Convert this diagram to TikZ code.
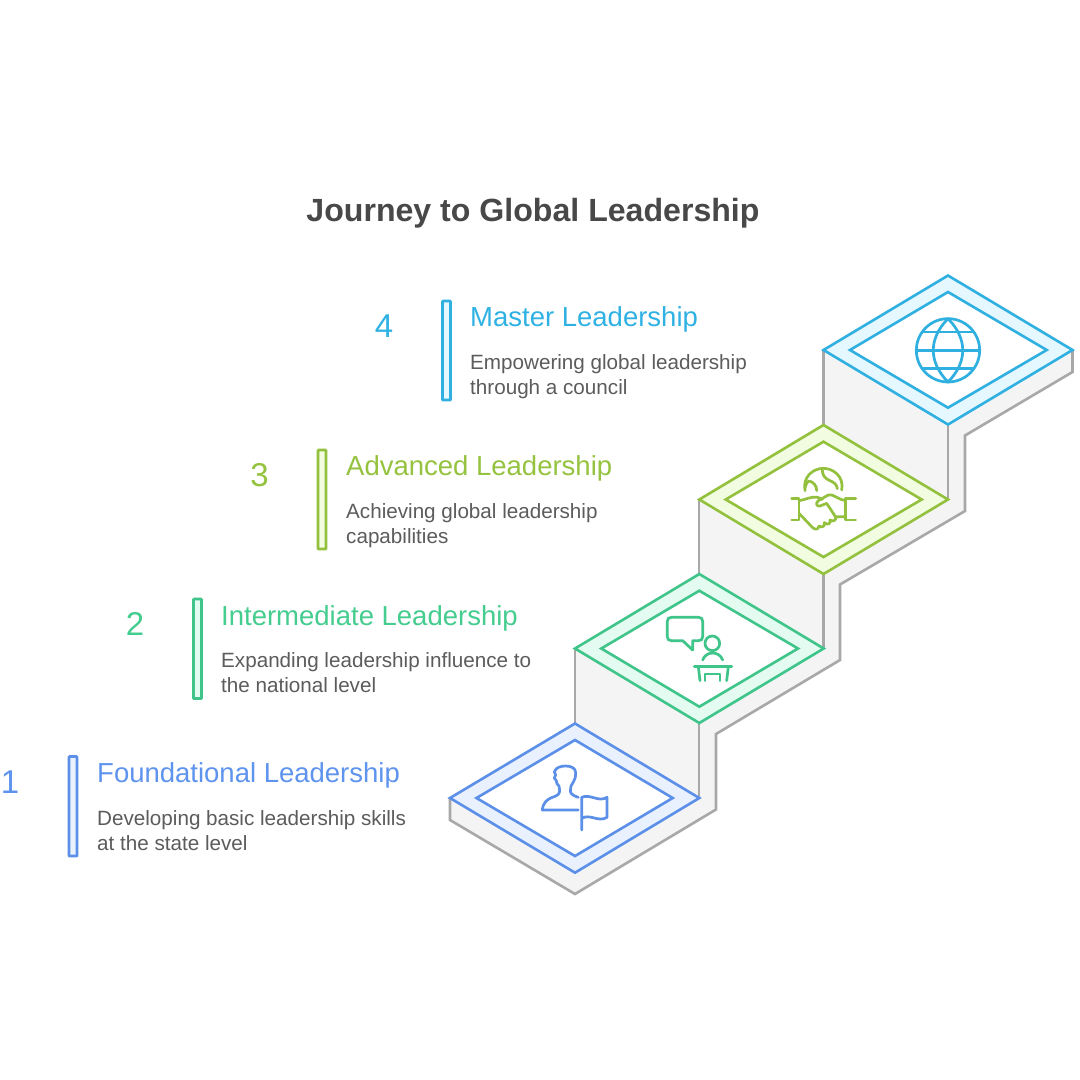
\documentclass[tikz,border=0pt]{standalone}
\usepackage{fontspec}
\setmainfont{Liberation Sans}
\definecolor{cblue}{HTML}{5B8FE8}\definecolor{fblue}{HTML}{EAF1FE}\definecolor{tblue}{HTML}{5E94EE}
\definecolor{cgreen}{HTML}{3FC48A}\definecolor{fgreen}{HTML}{E3FBF0}\definecolor{tgreen}{HTML}{45CC8F}
\definecolor{clime}{HTML}{93C13E}\definecolor{flime}{HTML}{F1FCE0}\definecolor{tlime}{HTML}{95C33F}
\definecolor{csky}{HTML}{2FB0E0}\definecolor{fsky}{HTML}{E5F7FF}\definecolor{tsky}{HTML}{2FB2E3}
\definecolor{wallline}{HTML}{A8A8A8}\definecolor{wallfill}{HTML}{F4F4F4}
\definecolor{titletext}{HTML}{484848}\definecolor{bodytext}{HTML}{5C5C5C}
\tikzset{
  wallstroke/.style={draw=wallline,line width=2.6pt,line join=miter},
  outerd/.style={line width=2.6pt,line join=miter},
  innerd/.style={line width=2.6pt,line join=miter,fill=white},
  bar/.style={line width=2.9pt,rounded corners=0.8pt},
  icon/.style={line width=2.7pt,line cap=round,line join=round},
  headtext/.style={anchor=base west,inner sep=0pt,font=\fontsize{27.5}{30}\selectfont},
  subtext/.style={anchor=base west,inner sep=0pt,font=\fontsize{20.65}{24}\selectfont,text=bodytext},
  numtext/.style={anchor=base,inner sep=0pt,font=\fontsize{33}{36}\selectfont},
  titlenode/.style={anchor=base,inner sep=0pt,font=\bfseries\fontsize{32.1}{36}\selectfont,text=titletext}
}
\begin{document}
\begin{tikzpicture}[x=1pt,y=-1pt]
\useasboundingbox (0,0) rectangle (1080,1080);
\fill[white] (0,0) rectangle (1080,1080);
% body of the staircase
\fill[wallfill] (450,798)--(575,723.5)--(575,648.5)--(699,574)--(699,499.5)--(823.5,425)--(823.5,350)--(948,275.5)--(1072.5,350)--(1072.5,372)--(965,435.5)--(965,511)--(840,584.5)--(840,660)--(716,734)--(716,809.5)--(575,894)--(450,820)--cycle;
\draw[wallstroke] (450,798)--(450,820)--(575,894)--(716,809.5)--(716,734)--(840,660)--(840,584.5)--(965,511)--(965,435.5)--(1072.5,372)--(1072.5,350);
\draw[wallstroke] (575,648.5)--(575,723.5) (699,723)--(699,798) (699,499.5)--(699,574) (823.5,574)--(823.5,648.5) (823.5,350)--(823.5,425) (948,424.5)--(948,499.5);
% step 1
\draw[outerd,draw=cblue,fill=fblue] (450,798)--(575,723.5)--(699.3,798)--(575,872.7)--cycle;
\draw[innerd,draw=cblue] (476.5,798)--(575,740)--(672.7,798)--(575,856)--cycle;
% step 2
\draw[outerd,draw=cgreen,fill=fgreen] (575,648.5)--(699.3,574)--(823.7,648.5)--(699.3,723)--cycle;
\draw[innerd,draw=cgreen] (601.3,648.5)--(699.3,590.7)--(798,648.5)--(699.3,706.7)--cycle;
% step 3
\draw[outerd,draw=clime,fill=flime] (699.3,499.5)--(823.5,425)--(948,499.5)--(823.5,574)--cycle;
\draw[innerd,draw=clime] (725.7,499.5)--(823.5,441.7)--(921.7,499.5)--(823.5,557)--cycle;
% step 4
\draw[outerd,draw=csky,fill=fsky] (823.5,350)--(948,275.5)--(1072.5,350)--(948,424.5)--cycle;
\draw[innerd,draw=csky] (850,350)--(948,292)--(1046.7,350)--(948,407.7)--cycle;
% icon 1: person and flag
\begin{scope}[shift={(535,760)},scale=1/3,icon,draw=cblue]
\draw (130,150)--(22,150) .. controls (24,128) and (36,118) .. (52,112) .. controls (64,108) and (74,104) .. (74,92)--(72,78) .. controls (66,74) and (64,68) .. (64,62)--(58,54)--(62,44)--(58,36) .. controls (62,22) and (78,18) .. (92,18) .. controls (108,18) and (122,24) .. (122,38) .. controls (122,50) and (120,60) .. (114,68)--(108,78)--(106,94) .. controls (108,104) and (118,108) .. (130,112);
\draw (140,210)--(140,112) .. controls (165,100) and (190,128) .. (216,112)--(216,172) .. controls (190,188) and (165,160) .. (140,175);
\end{scope}
% icon 2: speaker at a desk
\begin{scope}[shift={(660,610)},scale=1/3,icon,draw=cgreen]
\draw (68,92)--(98,120)--(98,92)--(116,92) .. controls (124,92) and (128,88) .. (128,80)--(128,34) .. controls (128,26) and (124,22) .. (116,22)--(34,22) .. controls (26,22) and (22,26) .. (22,34)--(22,80) .. controls (22,88) and (26,92) .. (34,92)--cycle;
\draw (157,100) circle[radius=22];
\draw (128,150) .. controls (138,122) and (178,122) .. (188,150);
\draw (103,170)--(215,170);
\draw (115,170)--(120,212) (205,170)--(200,212);
\draw (135,212)--(135,192)--(180,192)--(180,212);
\end{scope}
% icon 3: handshake under a globe
\begin{scope}[shift={(785,460)},scale=1/3,icon,draw=clime]
\draw (60,92) .. controls (52,50) and (85,25) .. (115,25) .. controls (145,25) and (178,50) .. (170,90);
\draw (60,85) .. controls (62,72) and (68,64) .. (73,63) .. controls (85,66) and (96,78) .. (95,92);
\draw (112,30) .. controls (112,46) and (120,56) .. (135,62) .. controls (146,66) and (156,74) .. (157,86);
\draw (20,115)--(42,115)--(42,180)--(20,180);
\draw (212,115)--(182,115)--(182,180)--(212,180);
\draw (42,122) .. controls (60,120) and (78,108) .. (98,112)--(112,118);
\draw (182,170)--(152,170) (182,122) .. controls (160,120) and (145,100) .. (130,105)--(100,122) .. controls (90,130) and (95,140) .. (105,138)--(125,130)--(150,168) .. controls (158,178) and (145,188) .. (135,180) .. controls (138,192) and (128,196) .. (118,188) .. controls (120,200) and (110,204) .. (102,198) .. controls (100,210) and (90,210) .. (82,202)--(42,160);
\end{scope}
% icon 4: globe
\begin{scope}[shift={(908,312)},scale=1/3,icon,draw=csky]
\draw (120,115) circle[radius=95];
\draw (25,115)--(215,115) (43,60)--(197,60) (43,170)--(197,170);
\draw (120,20) .. controls (61,80) and (61,150) .. (120,210) .. controls (179,150) and (179,80) .. (120,20);
\end{scope}
% bars
\draw[bar,draw=cblue,fill=fblue] (69,756.5) rectangle (77,856);
\draw[bar,draw=cgreen,fill=fgreen] (193.5,599) rectangle (201.5,698.5);
\draw[bar,draw=clime,fill=flime] (318,450) rectangle (326,549);
\draw[bar,draw=csky,fill=fsky] (442.5,301) rectangle (450.5,400);
% text
\node[titlenode] (title) at (533,221.5) {Journey to Global Leadership};
\node[numtext,text=tblue] (n1) at (10,793.5) {1};
\node[numtext,text=tgreen] (n2) at (135,635.5) {2};
\node[numtext,text=tlime] (n3) at (259.5,486.5) {3};
\node[numtext,text=tsky] (n4) at (384,337) {4};
\node[headtext,text=tblue] (h1) at (97,782.5) {Foundational Leadership};
\node[subtext] (s1a) at (97,825) {Developing basic leadership skills};
\node[subtext] (s1b) at (97,850) {at the state level};
\node[headtext,text=tgreen] (h2) at (221,625.5) {Intermediate Leadership};
\node[subtext] (s2a) at (221,667.5) {Expanding leadership influence to};
\node[subtext] (s2b) at (221,692.5) {the national level};
\node[headtext,text=tlime] (h3) at (346,475.5) {Advanced Leadership};
\node[subtext] (s3a) at (346,518.5) {Achieving global leadership};
\node[subtext] (s3b) at (346,543.5) {capabilities};
\node[headtext,text=tsky] (h4) at (470,326.5) {Master Leadership};
\node[subtext] (s4a) at (470,369) {Empowering global leadership};
\node[subtext] (s4b) at (470,394) {through a council};
\end{tikzpicture}
\end{document}
